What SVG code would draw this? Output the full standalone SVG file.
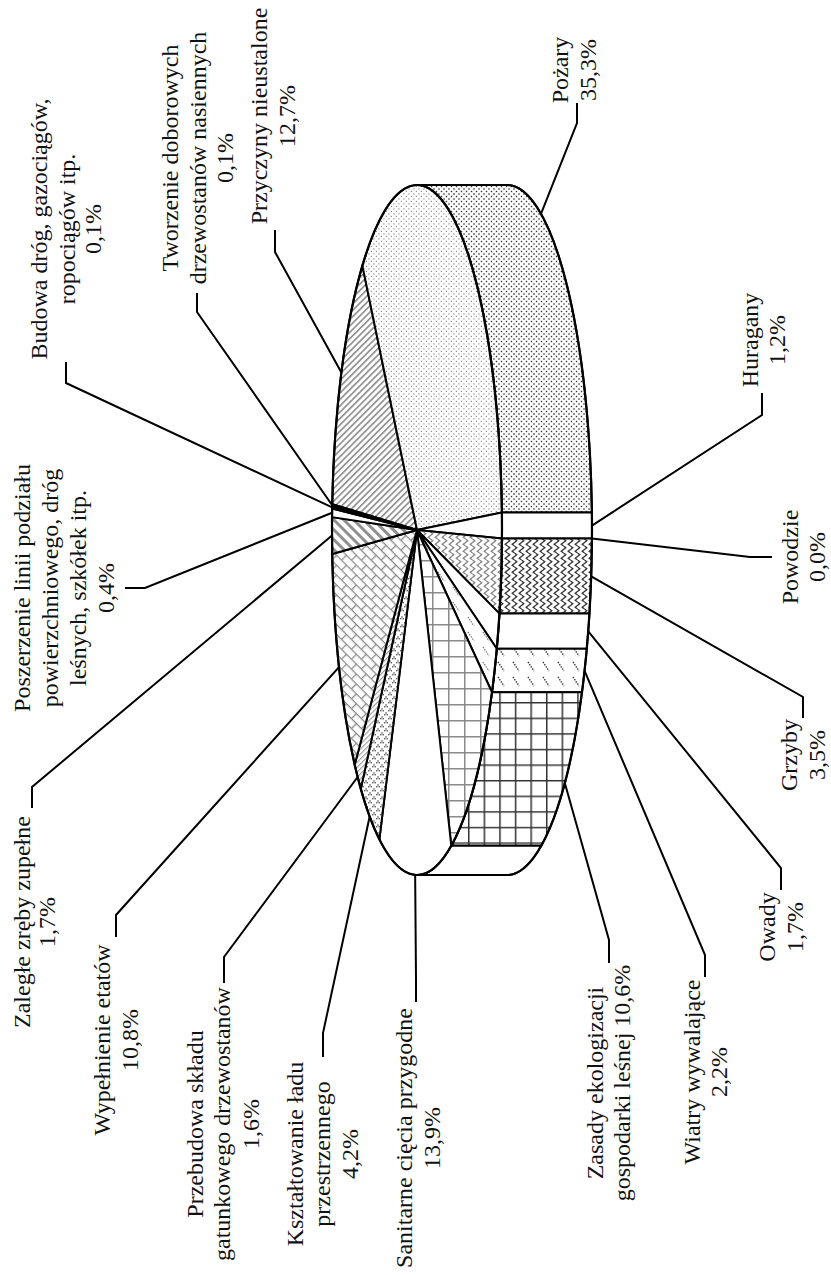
<svg xmlns="http://www.w3.org/2000/svg" width="831" height="1275" viewBox="0 0 831 1275">
<style>
.lbl{font-family:"Liberation Serif","Times New Roman",serif;font-size:24px;fill:#111;text-anchor:middle}
.edge{stroke:#000;stroke-width:2;stroke-linejoin:round}
.ld{fill:none;stroke:#000;stroke-width:2;stroke-linejoin:miter}
</style>
<defs>
<pattern id="pDotsL" width="5" height="5" patternUnits="userSpaceOnUse"><rect width="5" height="5" fill="#fff"/><rect x="0.8" y="0.8" width="1.2" height="1.2" fill="#8c8c8c"/><rect x="3.3" y="3.3" width="1.2" height="1.2" fill="#8c8c8c"/></pattern>
<pattern id="pDotsD" width="5" height="5" patternUnits="userSpaceOnUse"><rect width="5" height="5" fill="#fff"/><rect x="0.8" y="0.8" width="1.4" height="1.4" fill="#333"/><rect x="3.3" y="3.3" width="1.4" height="1.4" fill="#333"/></pattern>
<pattern id="pHatch" width="4.5" height="10" patternUnits="userSpaceOnUse" patternTransform="rotate(45)"><rect width="4.5" height="10" fill="#fff"/><rect width="1.6" height="10" fill="#8a8a8a"/></pattern>
<pattern id="pHatchFine" width="3.5" height="10" patternUnits="userSpaceOnUse" patternTransform="rotate(45)"><rect width="3.5" height="10" fill="#fff"/><rect width="1.1" height="10" fill="#999"/></pattern>
<pattern id="pZal" width="7" height="10" patternUnits="userSpaceOnUse" patternTransform="rotate(-45)"><rect width="7" height="10" fill="#fff"/><rect width="3" height="10" fill="#8f8f8f"/></pattern>
<pattern id="pBrick" width="14" height="14" patternUnits="userSpaceOnUse" patternTransform="rotate(45)"><rect width="14" height="14" fill="#fff"/><path d="M0,0.6H14M0,7.6H14M0.6,0.6V7.6M7.6,7.6V14.6" stroke="#8a8a8a" stroke-width="1.3" fill="none"/></pattern>
<pattern id="pV" width="8" height="8" patternUnits="userSpaceOnUse"><rect width="8" height="8" fill="#fff"/><g fill="#333"><circle cx="2" cy="1" r="0.75"/><circle cx="0.8" cy="2.8" r="0.75"/><circle cx="3.2" cy="2.8" r="0.75"/><circle cx="6" cy="5" r="0.75"/><circle cx="4.8" cy="6.8" r="0.75"/><circle cx="7.2" cy="6.8" r="0.75"/></g></pattern>
<pattern id="pWaveL" width="7" height="7" patternUnits="userSpaceOnUse"><rect width="7" height="7" fill="#fff"/><path d="M3.5,0 L5.8,1.75 L3.5,3.5 L1.2,5.25 L3.5,7" stroke="#808080" stroke-width="1.2" fill="none"/></pattern>
<pattern id="pWaveD" width="7" height="7" patternUnits="userSpaceOnUse"><rect width="7" height="7" fill="#fff"/><path d="M3.5,0 L5.8,1.75 L3.5,3.5 L1.2,5.25 L3.5,7" stroke="#333" stroke-width="1.3" fill="none"/></pattern>
<pattern id="pDashL" width="15" height="15" patternUnits="userSpaceOnUse"><rect width="15" height="15" fill="#fff"/><path d="M3,2 L9,11" stroke="#777" stroke-width="1.3" stroke-dasharray="1.4 1.2" fill="none"/></pattern>
<pattern id="pDashD" width="15" height="15" patternUnits="userSpaceOnUse"><rect width="15" height="15" fill="#fff"/><path d="M3,2 L9,11" stroke="#333" stroke-width="1.4" stroke-dasharray="1.4 1.2" fill="none"/></pattern>
<pattern id="pGridL" width="16" height="16" patternUnits="userSpaceOnUse"><rect width="16" height="16" fill="#fff"/><path d="M0,0.75H16M0.75,0V16" stroke="#8a8a8a" stroke-width="1.5" fill="none"/></pattern>
<pattern id="pGridD" width="15.6" height="15.6" patternUnits="userSpaceOnUse"><rect width="15.6" height="15.6" fill="#fff"/><path d="M0,0.75H15.6M0.75,0V15.6" stroke="#333" stroke-width="1.5" fill="none"/></pattern>
</defs>
<rect width="831" height="1275" fill="#fff"/>

<g id="chart">
  <!-- side faces -->
  <path id="side-pozary" class="edge" fill="url(#pDotsD)" d="M417,185 L507,185 A85,345 0 0 1 591.89,512.55 L501.89,512.55 A85,345 0 0 0 417,185 Z"/>
  <path id="side-huragany" class="edge" fill="#fff" d="M501.89,512.55 L591.89,512.55 A85,345 0 0 1 591.97,538.55 L501.97,538.55 A85,345 0 0 0 501.89,512.55 Z"/>
  <path id="side-grzyby" class="edge" fill="url(#pWaveD)" d="M501.97,538.55 L591.97,538.55 A85,345 0 0 1 589.47,613.58 L499.47,613.58 A85,345 0 0 0 501.97,538.55 Z"/>
  <path id="side-owady" class="edge" fill="#fff" d="M499.47,613.58 L589.47,613.58 A85,345 0 0 1 586.80,648.80 L496.80,648.80 A85,345 0 0 0 499.47,613.58 Z"/>
  <path id="side-wiatry" class="edge" fill="url(#pDashD)" d="M496.80,648.80 L586.80,648.80 A85,345 0 0 1 582.01,692.27 L492.01,692.27 A85,345 0 0 0 496.80,648.80 Z"/>
  <path id="side-zasady" class="edge" fill="url(#pGridD)" d="M492.01,692.27 L582.01,692.27 A85,345 0 0 1 541.27,845.71 L451.27,845.71 A85,345 0 0 0 492.01,692.27 Z"/>
  <path id="side-sanitarne" class="edge" fill="#fff" d="M451.27,845.71 L541.27,845.71 A85,345 0 0 1 507,875 L417,875 A85,345 0 0 0 451.27,845.71 Z"/>
  <!-- top face wedges -->
  <path id="w-przyczyny" class="edge" fill="url(#pHatch)" d="M417,530 L332.24,504.13 A85,345 0 0 1 362.39,265.64 Z"/>
  <path id="w-pozary" class="edge" fill="url(#pDotsL)" d="M417,530 L362.39,265.64 A85,345 0 0 1 501.89,512.55 Z"/>
  <path id="w-huragany" class="edge" fill="#fff" d="M417,530 L501.89,512.55 A85,345 0 0 1 501.97,538.55 Z"/>
  <path id="w-grzyby" class="edge" fill="url(#pWaveL)" d="M417,530 L501.97,538.55 A85,345 0 0 1 499.47,613.58 Z"/>
  <path id="w-owady" class="edge" fill="#fff" d="M417,530 L499.47,613.58 A85,345 0 0 1 496.80,648.80 Z"/>
  <path id="w-wiatry" class="edge" fill="url(#pDashL)" d="M417,530 L496.80,648.80 A85,345 0 0 1 492.01,692.27 Z"/>
  <path id="w-zasady" class="edge" fill="url(#pGridL)" d="M417,530 L492.01,692.27 A85,345 0 0 1 451.27,845.71 Z"/>
  <path id="w-sanitarne" class="edge" fill="#fff" d="M417,530 L451.27,845.71 A85,345 0 0 1 379.39,839.40 Z"/>
  <path id="w-ksztalt" class="edge" fill="url(#pV)" d="M417,530 L379.39,839.40 A85,345 0 0 1 360.81,788.87 Z"/>
  <path id="w-przebudowa" class="edge" fill="url(#pHatchFine)" d="M417,530 L360.81,788.87 A85,345 0 0 1 354.69,764.67 Z"/>
  <path id="w-wypelnienie" class="edge" fill="url(#pBrick)" d="M417,530 L354.69,764.67 A85,345 0 0 1 332.20,553.95 Z"/>
  <path id="w-zalegle" class="edge" fill="url(#pZal)" d="M417,530 L332.20,553.95 A85,345 0 0 1 332.06,517.12 Z"/>
  <path id="w-poszerzenie" class="edge" fill="#fff" d="M417,530 L332.06,517.12 A85,345 0 0 1 332.17,508.46 Z"/>
  <path id="w-budowa" class="edge" fill="#fff" d="M417,530 L332.17,508.46 A85,345 0 0 1 332.20,506.30 Z"/>
  <path id="w-tworzenie" class="edge" fill="#fff" d="M417,530 L332.20,506.30 A85,345 0 0 1 332.24,504.13 Z"/>
  <!-- outline -->
  <ellipse cx="417" cy="530" rx="85" ry="345" fill="none" stroke="#000" stroke-width="2.2"/>
  <path fill="none" stroke="#000" stroke-width="2.2" d="M417,185 L507,185 A85,345 0 0 1 507,875 L417,875"/>
</g>

<g id="connectors">
  <polyline class="ld" points="66,362 66,383 332.18,507.38"/>
  <polyline class="ld" points="197,293 197,312 332.22,505.21"/>
  <polyline class="ld" points="275,230 275,252 341.37,372.51"/>
  <polyline class="ld" points="577,103 577,123 540.98,213.77"/>
  <polyline class="ld" points="762,393 762,415 591.99,525.54"/>
  <polyline class="ld" points="772,557 750,557 591.97,538.55"/>
  <polyline class="ld" points="803,718 803,697 591.23,576.34"/>
  <polyline class="ld" points="781,890 781,868 588.25,631.32"/>
  <polyline class="ld" points="705,977 705,955 584.59,670.87"/>
  <polyline class="ld" points="609,963 609,940 564.81,782.93"/>
  <polyline class="ld" points="416,1002 416,980 415.16,874.92"/>
  <polyline class="ld" points="323,1057 323,1033 369.67,816.58"/>
  <polyline class="ld" points="224,983 224,957 357.66,777.02"/>
  <polyline class="ld" points="116,937 116,915 339.00,667.13"/>
  <polyline class="ld" points="32,808 32,787 332.01,535.54"/>
  <polyline class="ld" points="125,588 145,588 332.11,512.79"/>
</g>

<g id="label-budowa" transform="translate(47,229) rotate(-90)"><text class="lbl" x="0" y="0">Budowa dróg, gazociągów,</text><text class="lbl" x="0" y="28">ropociągów itp.</text><text class="lbl" x="0" y="54">0,1%</text></g>
<g id="label-tworzenie" transform="translate(178,158) rotate(-90)"><text class="lbl" x="0" y="0">Tworzenie doborowych</text><text class="lbl" x="0" y="28">drzewostanów nasiennych</text><text class="lbl" x="0" y="55">0,1%</text></g>
<g id="label-przyczyny" transform="translate(267,116) rotate(-90)"><text class="lbl" x="0" y="0">Przyczyny nieustalone</text><text class="lbl" x="0" y="28">12,7%</text></g>
<g id="label-pozary" transform="translate(568,70) rotate(-90)"><text class="lbl" x="0" y="0">Pożary</text><text class="lbl" x="0" y="28">35,3%</text></g>
<g id="label-huragany" transform="translate(758,340) rotate(-90)"><text class="lbl" x="0" y="0">Huragany</text><text class="lbl" x="0" y="27">1,2%</text></g>
<g id="label-powodzie" transform="translate(798,557) rotate(-90)"><text class="lbl" x="0" y="0">Powodzie</text><text class="lbl" x="0" y="27">0,0%</text></g>
<g id="label-grzyby" transform="translate(797,755) rotate(-90)"><text class="lbl" x="0" y="0">Grzyby</text><text class="lbl" x="0" y="28">3,5%</text></g>
<g id="label-owady" transform="translate(775,927) rotate(-90)"><text class="lbl" x="0" y="0">Owady</text><text class="lbl" x="0" y="28">1,7%</text></g>
<g id="label-wiatry" transform="translate(700,1072) rotate(-90)"><text class="lbl" x="0" y="0">Wiatry wywalające</text><text class="lbl" x="0" y="27">2,2%</text></g>
<g id="label-zasady" transform="translate(603,1083) rotate(-90)"><text class="lbl" x="0" y="0">Zasady ekologizacji</text><text class="lbl" x="0" y="27">gospodarki leśnej 10,6%</text></g>
<g id="label-sanitarne" transform="translate(412,1138) rotate(-90)"><text class="lbl" x="0" y="0">Sanitarne cięcia przygodne</text><text class="lbl" x="0" y="28">13,9%</text></g>
<g id="label-ksztaltowanie" transform="translate(303,1154) rotate(-90)"><text class="lbl" x="0" y="0">Kształtowanie ładu</text><text class="lbl" x="0" y="27">przestrzennego</text><text class="lbl" x="0" y="55">4,2%</text></g>
<g id="label-przebudowa" transform="translate(203,1124) rotate(-90)"><text class="lbl" x="0" y="0">Przebudowa składu</text><text class="lbl" x="0" y="27">gatunkowego drzewostanów</text><text class="lbl" x="0" y="56">1,6%</text></g>
<g id="label-wypelnienie" transform="translate(110,1040) rotate(-90)"><text class="lbl" x="0" y="0">Wypełnienie etatów</text><text class="lbl" x="0" y="28">10,8%</text></g>
<g id="label-zalegle" transform="translate(30,922) rotate(-90)"><text class="lbl" x="0" y="0">Zaległe zręby zupełne</text><text class="lbl" x="0" y="25">1,7%</text></g>
<g id="label-poszerzenie" transform="translate(30,588) rotate(-90)"><text class="lbl" x="0" y="0">Poszerzenie linii podziału</text><text class="lbl" x="0" y="28">powierzchniowego, dróg</text><text class="lbl" x="0" y="56">leśnych, szkółek itp.</text><text class="lbl" x="0" y="84">0,4%</text></g>
</svg>
